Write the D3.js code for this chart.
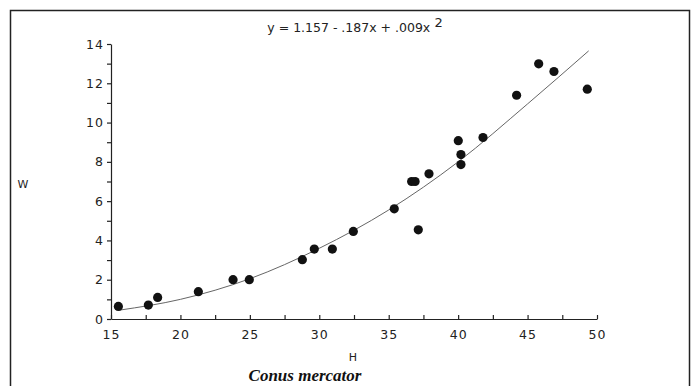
<!DOCTYPE html>
<html>
<head>
<meta charset="utf-8">
<script src="https://cdn.jsdelivr.net/npm/d3@7"></script>
<style>
  body { margin: 0; background: #fff; }
  .axis text { font-family: "DejaVu Sans", sans-serif; font-size: 12.5px; fill: #222; letter-spacing: 1px; }
  .axis path, .axis line { stroke: #222; stroke-width: 1.2; }
</style>
</head>
<body>
<div id="GraphHolder"></div>
<script>
// shell height H (mm) and weight W (g)
var shellH = [15.53, 17.69, 18.36, 21.29, 23.79, 24.96, 28.78, 29.64, 30.94, 32.45, 35.40,
              36.65, 36.90, 37.13, 37.90, 40.01, 40.20, 40.20, 41.79, 44.21, 45.80, 46.90, 49.30];
var shellW = [0.64, 0.71, 1.10, 1.39, 2.00, 2.00, 3.02, 3.56, 3.56, 4.46, 5.61,
              7.00, 7.00, 4.54, 7.39, 9.08, 8.37, 7.86, 9.24, 11.39, 12.99, 12.60, 11.70];

// fitted curve, sampled from the drawn line
var fitH = [15.6, 20, 25, 30, 35, 40, 45, 49.4];
var fitW = [0.45, 1.0, 2.05, 3.6, 5.55, 8.0, 10.95, 13.65];

var xTicks = [15, 17.5, 20, 22.5, 25, 27.5, 30, 32.5, 35, 37.5, 40, 42.5, 45, 47.5, 50];
var yTicks = d3.range(0, 15, 1);

var svg = d3.select("#GraphHolder").append("svg")
    .attr("width", 697)
    .attr("height", 386);

// frame round the figure
svg.append("rect")
    .attr("x", 10.5).attr("y", 10.5)
    .attr("width", 679).attr("height", 400)
    .style("fill", "none")
    .style("stroke", "#222")
    .style("stroke-width", 1.5);

var x = d3.scaleLinear().domain([15, 50]).range([111, 597]);
var y = d3.scaleLinear().domain([0, 14]).range([319, 44]);

// y axis, labels on even values only
svg.append("g")
    .attr("class", "axis")
    .attr("transform", "translate(111,0)")
    .call(d3.axisLeft(y)
        .tickValues(yTicks)
        .tickSizeInner(4)
        .tickSizeOuter(0)
        .tickPadding(3)
        .tickFormat(function(d) { return d % 2 === 0 ? d : ""; }));

// x axis, ticks point up into the plot
var xg = svg.append("g")
    .attr("class", "axis")
    .attr("transform", "translate(0,319)")
    .call(d3.axisBottom(x)
        .tickValues(xTicks)
        .tickSizeInner(-4)
        .tickSizeOuter(0)
        .tickFormat(function(d) { return d % 5 === 0 ? d : ""; }));
xg.selectAll("text").attr("y", 11);

// fitted curve
var line = d3.line()
    .x(function(d) { return x(d[0]); })
    .y(function(d) { return y(d[1]); })
    .curve(d3.curveMonotoneX);

svg.append("path")
    .datum(d3.zip(fitH, fitW))
    .attr("d", line)
    .style("fill", "none")
    .style("stroke", "#666")
    .style("stroke-width", 1);

// points
svg.selectAll(".dot")
    .data(d3.zip(shellH, shellW))
    .enter().append("circle")
    .attr("class", "dot")
    .attr("cx", function(d) { return x(d[0]); })
    .attr("cy", function(d) { return y(d[1]); })
    .attr("r", 4.6)
    .style("fill", "#111");

// equation
var eq = svg.append("text")
    .attr("x", 355).attr("y", 32)
    .style("text-anchor", "middle")
    .style("font-family", "DejaVu Sans, sans-serif")
    .style("font-size", "12.5px")
    .style("fill", "#222");
eq.append("tspan").text("y = 1.157 - .187x  +  .009x");
eq.append("tspan").attr("dy", -5).style("font-size", "13px").text(" 2");

// axis titles
svg.append("text")
    .attr("x", 23).attr("y", 188)
    .style("text-anchor", "middle")
    .style("font-family", "DejaVu Sans, sans-serif")
    .style("font-size", "11px")
    .style("fill", "#222")
    .text("W");

svg.append("text")
    .attr("x", 353).attr("y", 361)
    .style("text-anchor", "middle")
    .style("font-family", "DejaVu Sans, sans-serif")
    .style("font-size", "11px")
    .style("fill", "#222")
    .text("H");

// species caption
svg.append("text")
    .attr("x", 305).attr("y", 381)
    .style("text-anchor", "middle")
    .style("font-family", "Liberation Serif, serif")
    .style("font-style", "italic")
    .style("font-weight", "bold")
    .style("font-size", "17px")
    .style("fill", "#111")
    .text("Conus mercator");
</script>
</body>
</html>
